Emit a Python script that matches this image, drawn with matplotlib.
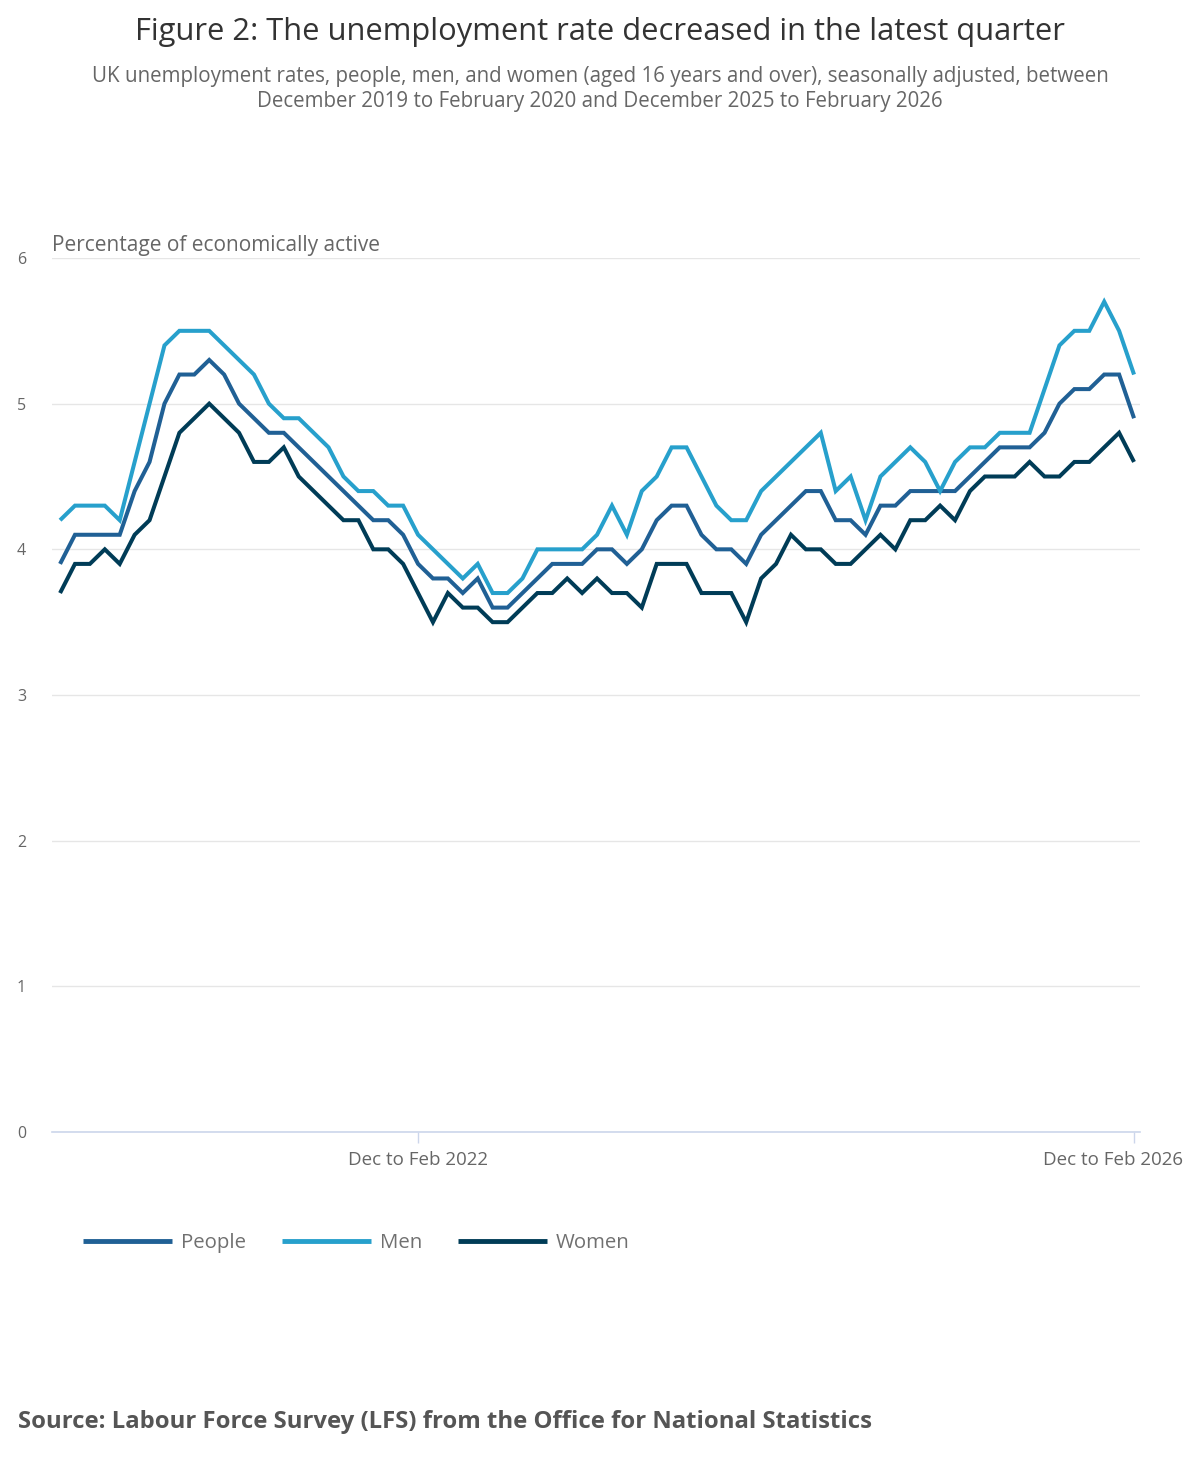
import matplotlib
matplotlib.use("Agg")
import matplotlib.pyplot as plt
from matplotlib.transforms import ScaledTranslation
import numpy as np

plt.rcParams['font.family'] = ['Open Sans', 'DejaVu Sans']

# 73 rolling quarters: Dec-Feb 2020 ... Dec-Feb 2026
n_periods = 73
tick_positions = [24, 72]
tick_labels = ["Dec to Feb 2022", "Dec to Feb 2026"]

people = [3.9, 4.1, 4.1, 4.1, 4.1, 4.4, 4.6, 5.0, 5.2, 5.2, 5.3, 5.2, 5.0, 4.9, 4.8, 4.8,
          4.7, 4.6, 4.5, 4.4, 4.3, 4.2, 4.2, 4.1, 3.9, 3.8, 3.8, 3.7, 3.8, 3.6, 3.6, 3.7,
          3.8, 3.9, 3.9, 3.9, 4.0, 4.0, 3.9, 4.0, 4.2, 4.3, 4.3, 4.1, 4.0, 4.0, 3.9, 4.1,
          4.2, 4.3, 4.4, 4.4, 4.2, 4.2, 4.1, 4.3, 4.3, 4.4, 4.4, 4.4, 4.4, 4.5, 4.6, 4.7,
          4.7, 4.7, 4.8, 5.0, 5.1, 5.1, 5.2, 5.2, 4.9]
men = [4.2, 4.3, 4.3, 4.3, 4.2, 4.6, 5.0, 5.4, 5.5, 5.5, 5.5, 5.4, 5.3, 5.2, 5.0, 4.9,
       4.9, 4.8, 4.7, 4.5, 4.4, 4.4, 4.3, 4.3, 4.1, 4.0, 3.9, 3.8, 3.9, 3.7, 3.7, 3.8,
       4.0, 4.0, 4.0, 4.0, 4.1, 4.3, 4.1, 4.4, 4.5, 4.7, 4.7, 4.5, 4.3, 4.2, 4.2, 4.4,
       4.5, 4.6, 4.7, 4.8, 4.4, 4.5, 4.2, 4.5, 4.6, 4.7, 4.6, 4.4, 4.6, 4.7, 4.7, 4.8,
       4.8, 4.8, 5.1, 5.4, 5.5, 5.5, 5.7, 5.5, 5.2]
women = [3.7, 3.9, 3.9, 4.0, 3.9, 4.1, 4.2, 4.5, 4.8, 4.9, 5.0, 4.9, 4.8, 4.6, 4.6, 4.7,
         4.5, 4.4, 4.3, 4.2, 4.2, 4.0, 4.0, 3.9, 3.7, 3.5, 3.7, 3.6, 3.6, 3.5, 3.5, 3.6,
         3.7, 3.7, 3.8, 3.7, 3.8, 3.7, 3.7, 3.6, 3.9, 3.9, 3.9, 3.7, 3.7, 3.7, 3.5, 3.8,
         3.9, 4.1, 4.0, 4.0, 3.9, 3.9, 4.0, 4.1, 4.0, 4.2, 4.2, 4.3, 4.2, 4.4, 4.5, 4.5,
         4.5, 4.6, 4.5, 4.5, 4.6, 4.6, 4.7, 4.8, 4.6]

series_names = ["People", "Men", "Women"]
colors = ["#206095", "#27a0cc", "#003c57"]

W, H = 1200, 1469
fig = plt.figure(figsize=(W / 100, H / 100), dpi=100)
ax = fig.add_axes([52 / W, 1 - 1132 / H, (1140 - 52) / W, (1132 - 258) / H])

x = np.arange(n_periods)
for name, vals, c in zip(series_names, [people, men, women], colors):
    ax.plot(x, vals, color=c, lw=2.9, label=name, solid_joinstyle='miter', solid_capstyle='butt')

ax.set_xlim(-0.54, 72.4)
ax.set_ylim(0, 6)
ax.set_yticks(range(0, 7))
ax.grid(axis='y', color='#e6e6e6', lw=1)
ax.set_axisbelow(True)
for s in ['top', 'right', 'left']:
    ax.spines[s].set_visible(False)
ax.spines['bottom'].set_color('#ccd6eb')
ax.spines['bottom'].set_linewidth(1.2)
ax.tick_params(axis='y', length=0, pad=22, labelsize=11.5, labelcolor='#666666')
ax.set_xticks(tick_positions)
ax.set_xticklabels(tick_labels)
ax.tick_params(axis='x', length=8, width=1, color='#ccd6eb', pad=6, labelsize=13.5, labelcolor='#666666')
for lab in ax.get_yticklabels():
    lab.set_horizontalalignment('center')
lbls = ax.get_xticklabels()
lbls[1].set_transform(lbls[1].get_transform() + ScaledTranslation(-0.21, 0, fig.dpi_scale_trans))

fig.text(600 / W, 1 - 32 / H, "Figure 2: The unemployment rate decreased in the latest quarter",
         ha='center', va='center', fontsize=22.2, color='#333333')
fig.text(600 / W, 1 - 89 / H,
         "UK unemployment rates, people, men, and women (aged 16 years and over), seasonally adjusted, between\n"
         "December 2019 to February 2020 and December 2025 to February 2026",
         ha='center', va='center', fontsize=14.8, color='#666666', linespacing=1.27)
fig.text(52 / W, 1 - 245 / H, "Percentage of economically active",
         ha='left', va='center', fontsize=15, color='#666666')

leg = fig.legend(loc='center left', bbox_to_anchor=(83 / W, 1 - 1243 / H), ncol=3, frameon=False,
                 fontsize=14.7, handlelength=4.35, handletextpad=0.45, columnspacing=1.75,
                 borderaxespad=0, borderpad=0)
for line in leg.get_lines():
    line.set_linewidth(3.5)
for t in leg.get_texts():
    t.set_color('#707070')

fig.text(18 / W, 1 - 1422 / H, "Source: Labour Force Survey (LFS) from the Office for National Statistics",
         ha='left', va='center', fontsize=17.2, fontweight='bold', color='#555555')

fig.savefig("out.png", dpi=100, facecolor='white')
